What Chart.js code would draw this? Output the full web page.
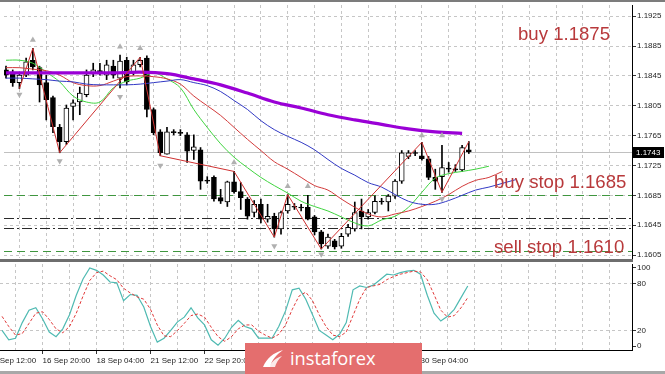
<!DOCTYPE html>
<html>
<head>
<meta charset="utf-8">
<script src="https://cdn.jsdelivr.net/npm/chart.js@4.4.0/dist/chart.umd.min.js"></script>
<style>
  html, body { margin: 0; padding: 0; background: #fff; }
  #wrap { position: relative; width: 665px; height: 374px; overflow: hidden; background: #fff;
          font-family: 'Liberation Sans', Arial, sans-serif; }
  #main { position: absolute; left: 0; top: 0; }
  #osc { position: absolute; left: 0; top: 262px; }
  .bar { position: absolute; left: 0; width: 665px; }
  .note { position: absolute; color: #b8393b; font-size: 18.6px; line-height: 1; white-space: nowrap; }
  #banner { position: absolute; left: 245px; top: 343px; width: 177px; height: 31px; background: #e46e6e; }
  #banner span { position: absolute; left: 45px; top: 4px; color: #fff; font-family: 'Open Sans', sans-serif;
                 font-size: 18.3px; line-height: 1.2; }
  #banner svg { position: absolute; left: 16px; top: 5px; }
</style>
</head>
<body>
<div id="wrap">
  <canvas id="main" width="665" height="262"></canvas>
  <canvas id="osc" width="665" height="112"></canvas>
  <div class="bar" style="top:0;height:2px;background:#7c7c7c"></div>
  <div class="bar" style="top:259px;height:3px;background:#6e6e6e;width:633px"></div>
  <div class="bar" style="top:371px;height:3px;background:#a8a8a8"></div>
  <div class="note" style="left:518px;top:25px">buy 1.1875</div>
  <div class="note" style="left:494px;top:173px">buy stop 1.1685</div>
  <div class="note" style="left:494px;top:238px">sell stop 1.1610</div>
  <div id="banner">
    <svg width="24" height="21" viewBox="0 0 24 21">
      <path d="M2 19 C6 10 12 5 22 2 C15 7 11 12 9 19 Z" fill="#fff"/>
      <path d="M8 19 C11 13 15 10 21 8 C17 12 15 15 14 19 Z" fill="#fff" opacity="0.85"/>
    </svg>
    <span>instaforex</span>
  </div>
</div>
<script>
// H4 EURUSD candles, one entry per bar (oldest first)
const opens = [1.1853,1.1849,1.1836,1.1846,1.1866,1.1856,1.1836,1.1816,1.1776,1.1757,
  1.1804,1.1810,1.1820,1.1849,1.1852,1.1846,1.1858,1.1842,1.1866,1.1849,
  1.1860,1.1869,1.1800,1.1770,1.1740,1.1770,1.1769,1.1766,1.1745,1.1746,
  1.1705,1.1709,1.1682,1.1676,1.1703,1.1690,1.1680,1.1662,1.1673,1.1653,
  1.1657,1.1640,1.1664,1.1670,1.1669,1.1669,1.1656,1.1636,1.1617,1.1624,
  1.1617,1.1633,1.1640,1.1664,1.1656,1.1662,1.1677,1.1676,1.1684,1.1704,
  1.1737,1.1742,1.1738,1.1734,1.1709,1.1710,1.1721,1.1720,1.1719,1.1746];
const highs = [1.1858,1.1853,1.1850,1.1869,1.1882,1.1858,1.1846,1.1818,1.1780,1.1806,
  1.1813,1.1830,1.1853,1.1862,1.1862,1.1866,1.1866,1.1873,1.1870,1.1866,
  1.1870,1.1872,1.1802,1.1773,1.1776,1.1773,1.1773,1.1769,1.1766,1.1749,
  1.1710,1.1711,1.1693,1.1704,1.1717,1.1702,1.1682,1.1678,1.1680,1.1673,
  1.1661,1.1664,1.1686,1.1674,1.1673,1.1685,1.1658,1.1638,1.1633,1.1626,
  1.1634,1.1646,1.1676,1.1680,1.1666,1.1684,1.1681,1.1686,1.1706,1.1745,
  1.1745,1.1745,1.1756,1.1737,1.1720,1.1752,1.1729,1.1726,1.1752,1.1757];
const lows = [1.1842,1.1831,1.1828,1.1844,1.1853,1.1810,1.1786,1.1769,1.1742,1.1753,
  1.1786,1.1793,1.1817,1.1844,1.1846,1.1840,1.1842,1.1829,1.1833,1.1846,
  1.1857,1.1790,1.1766,1.1738,1.1740,1.1766,1.1765,1.1729,1.1733,1.1693,
  1.1701,1.1677,1.1674,1.1670,1.1688,1.1666,1.1653,1.1656,1.1648,1.1649,
  1.1629,1.1633,1.1661,1.1666,1.1664,1.1652,1.1632,1.1613,1.1614,1.1613,
  1.1614,1.1630,1.1637,1.1640,1.1653,1.1660,1.1673,1.1664,1.1681,1.1701,
  1.1734,1.1738,1.1732,1.1706,1.1693,1.1689,1.1716,1.1717,1.1717,1.1741];
const closes = [1.1846,1.1836,1.1846,1.1864,1.1857,1.1833,1.1813,1.1777,1.1757,1.1802,
  1.1809,1.1822,1.1846,1.1853,1.1849,1.1860,1.1846,1.1865,1.1837,1.1860,
  1.1866,1.1800,1.1769,1.1742,1.1770,1.1769,1.1768,1.1744,1.1750,1.1704,
  1.1704,1.1680,1.1677,1.1703,1.1690,1.1682,1.1657,1.1673,1.1653,1.1657,
  1.1640,1.1662,1.1673,1.1669,1.1668,1.1653,1.1636,1.1620,1.1629,1.1616,
  1.1630,1.1642,1.1662,1.1656,1.1662,1.1677,1.1676,1.1684,1.1704,1.1742,
  1.1742,1.1741,1.1734,1.1709,1.1704,1.1722,1.1720,1.1719,1.1749,1.1743];

// Alligator lines, one value every 2 bars (they run past the last bar)
const lipsGreen = [1.1866,1.1866,1.1862,1.1850,1.1837,1.1818,1.1810,1.1810,1.1829,1.1838,
  1.1842,1.1849,1.1841,1.1829,1.1800,1.1776,1.1754,1.1736,1.1722,1.1709,
  1.1698,1.1688,1.1677,1.1670,1.1664,1.1656,1.1648,1.1644,1.1652,1.1657,
  1.1669,1.1689,1.1708,1.1714,1.1717,1.1720,1.1724];
const teethRed = [1.1856,1.1856,1.1854,1.1852,1.1846,1.1836,1.1832,1.1832,1.1838,1.1844,
  1.1845,1.1844,1.1841,1.1834,1.1818,1.1805,1.1792,1.1776,1.1760,1.1745,
  1.1730,1.1720,1.1709,1.1698,1.1692,1.1680,1.1669,1.1660,1.1656,1.1660,
  1.1664,1.1670,1.1677,1.1686,1.1697,1.1705,1.1709,1.1717];
const jawBlue = [1.1842,1.1842,1.1841,1.1840,1.1838,1.1837,1.1834,1.1833,1.1833,1.1833,
  1.1834,1.1836,1.1838,1.1840,1.1836,1.1832,1.1824,1.1812,1.1800,1.1785,
  1.1773,1.1764,1.1756,1.1746,1.1733,1.1721,1.1712,1.1702,1.1696,1.1686,
  1.1677,1.1673,1.1673,1.1678,1.1685,1.1692,1.1696,1.1701,1.1706];
// slow moving average, one value every 4 bars
const maPurple = [1.1849,1.1849,1.1849,1.1849,1.1849,1.1850,1.1848,1.1841,1.1833,1.1822,
  1.1810,1.1802,1.1793,1.1786,1.1780,1.1774,1.1770,1.1768];

// ZigZag turning points and fractal arrows (bar index, price)
const zigIdx = [2, 4, 8, 20, 23, 34, 40, 42, 47, 62, 65, 69];
const zigVal = [1.1828,1.1882,1.1742,1.1870,1.1738,1.1717,1.1629,1.1686,1.1613,1.1756,1.1689,1.1757];
const fracUpIdx = [4, 17, 20, 34, 42, 45, 62, 65];
const fracUpVal = [1.1893,1.1884,1.1882,1.1729,1.1697,1.1697,1.1765,1.1765];
const fracDnIdx = [2, 8, 17, 23, 40, 47, 65];
const fracDnVal = [1.1820,1.1731,1.1817,1.1725,1.1617,1.1606,1.1680];

// order levels
const levelPrices = [1.1685, 1.1655, 1.1641, 1.1610];

// stochastic oscillator
const stochMain = [20,8,10,30,46,49,35,18,12,22,40,65,86,100,97,91,82,81,58,66,
  65,50,25,5,10,20,31,37,49,36,27,8,1,10,24,33,25,22,10,10,
  10,25,45,72,74,60,40,20,14,8,15,30,72,77,75,78,85,92,91,94,
  96,97,92,65,42,32,38,47,62,77];
const stochSignal = [38,25,14,16,29,42,44,34,22,17,25,42,64,84,94,96,90,85,74,68,
  63,60,47,27,13,12,20,29,39,41,37,24,12,6,12,22,27,27,19,14,
  10,15,27,47,64,69,58,40,25,14,12,18,39,60,75,77,79,85,89,92,
  94,96,95,85,66,46,37,39,49,62];

// axis ticks
const priceTicks = [1.1925, 1.1885, 1.1845, 1.1805, 1.1765, 1.1725, 1.1685, 1.1645, 1.1605];
const oscTicks = [0, 20, 80, 100];
const timeLabelIdx = [-2, 6, 14, 22, 30, 38, 46, 54, 62];
const timeLabels = ['15 Sep 12:00', '16 Sep 20:00', '18 Sep 04:00', '21 Sep 12:00', '22 Sep 20:00',
  '24 Sep 04:00', '25 Sep 12:00', '28 Sep 20:00', '30 Sep 04:00'];

Chart.defaults.font.family = "'Liberation Sans', Arial, sans-serif";
Chart.defaults.font.size = 8;
Chart.defaults.color = '#1e1e1e';

const X_MIN = -0.3, X_MAX = 93.33;
const GRID = '#c6c6c6';
const gridIdx = [];
for (let v = 2; v <= 90; v += 4) gridIdx.push(v);

const stepIdx = (n, step) => Array.from({ length: n }, (_, k) => k * step);
const pts = (idx, vals) => vals.map((v, k) => ({ x: idx[k], y: v }));
const bars = opens.map((_, i) => i);

const levelStyles = [
  { color: '#3f963f', dash: [8, 5] },
  { color: '#2a2a2a', dash: [10, 3, 2, 3] },
  { color: '#2a2a2a', dash: [10, 3, 2, 3] },
  { color: '#3f963f', dash: [8, 5] }
];

const levelPlugin = {
  id: 'levels',
  beforeDatasetsDraw(chart) {
    const { ctx, chartArea: a, scales: { y } } = chart;
    const lastClose = closes[closes.length - 1];
    const drawH = (price, color, dash) => {
      const py = Math.round(y.getPixelForValue(price)) + 0.5;
      ctx.save();
      ctx.strokeStyle = color;
      ctx.lineWidth = 1;
      ctx.setLineDash(dash);
      ctx.beginPath();
      ctx.moveTo(a.left, py);
      ctx.lineTo(a.right, py);
      ctx.stroke();
      ctx.restore();
    };
    drawH(lastClose, '#c0c0c0', []);
    levelPrices.forEach((p, i) => drawH(p, levelStyles[i].color, levelStyles[i].dash));
  },
  afterDraw(chart) {
    const { ctx, chartArea: a, scales: { y } } = chart;
    const lastClose = closes[closes.length - 1];
    const py = Math.round(y.getPixelForValue(lastClose));
    ctx.save();
    ctx.fillStyle = '#000';
    ctx.fillRect(a.right + 1, py - 5, 31, 11);
    ctx.fillStyle = '#fff';
    ctx.font = "8px 'Liberation Sans', Arial, sans-serif";
    ctx.textBaseline = 'middle';
    ctx.fillText(lastClose.toFixed(4), a.right + 4, py + 0.5);
    ctx.restore();
  }
};

const lineDs = (data, color, width, order) => ({
  type: 'line', data, borderColor: color, borderWidth: width, pointRadius: 0,
  tension: 0.35, fill: false, order
});

new Chart(document.getElementById('main'), {
  type: 'bar',
  data: {
    datasets: [
      lineDs(pts(stepIdx(maPurple.length, 4), maPurple), '#9a00d6', 3.2, 2),
      lineDs(pts(stepIdx(jawBlue.length, 2), jawBlue), '#3138c4', 1, 3),
      lineDs(pts(stepIdx(teethRed.length, 2), teethRed), '#d23a3a', 1, 3),
      lineDs(pts(stepIdx(lipsGreen.length, 2), lipsGreen), '#3fd43f', 1, 3),
      Object.assign(lineDs(pts(zigIdx, zigVal), '#cf3030', 1, 1), { tension: 0 }),
      {
        type: 'line', data: pts(fracUpIdx, fracUpVal), showLine: false, order: 1,
        pointStyle: 'triangle', pointRadius: 3.5, rotation: 0,
        pointBackgroundColor: '#b0b0b0', pointBorderColor: '#b0b0b0', pointBorderWidth: 0
      },
      {
        type: 'line', data: pts(fracDnIdx, fracDnVal), showLine: false, order: 1,
        pointStyle: 'triangle', pointRadius: 3.5, rotation: 180,
        pointBackgroundColor: '#b0b0b0', pointBorderColor: '#b0b0b0', pointBorderWidth: 0
      },
      {
        type: 'bar', data: bars.map(i => ({ x: i, y: [lows[i], highs[i]] })),
        backgroundColor: '#000', barThickness: 1, grouped: false, order: 10
      },
      {
        type: 'bar', data: bars.map(i => ({ x: i, y: [opens[i], closes[i]] })),
        backgroundColor: bars.map(i => closes[i] >= opens[i] ? '#fff' : '#000'),
        borderColor: '#000', borderWidth: 1, borderSkipped: false, minBarLength: 1,
        barThickness: 5, grouped: false, order: 9
      }
    ]
  },
  options: {
    responsive: false,
    animation: false,
    events: [],
    layout: { padding: { top: 5, bottom: 3, left: 0, right: 0 } },
    plugins: { legend: { display: false }, tooltip: { enabled: false } },
    scales: {
      x: {
        type: 'linear', min: X_MIN, max: X_MAX, offset: false,
        afterBuildTicks: s => { s.ticks = gridIdx.map(v => ({ value: v })); },
        ticks: { display: false },
        grid: { color: GRID, drawTicks: false, offset: false },
        border: { display: false, dash: [3, 3] },
        afterFit: s => { s.height = 0; s.paddingLeft = 0; s.paddingRight = 0; }
      },
      y: {
        position: 'right', min: 1.1601, max: 1.1940,
        afterBuildTicks: s => { s.ticks = priceTicks.map(v => ({ value: v })); },
        ticks: { padding: 1, callback: v => v.toFixed(4) },
        grid: { color: GRID, tickLength: 4, tickColor: '#333' },
        border: { display: true, color: '#000', width: 1, dash: [3, 3] },
        afterFit: s => { s.width = 33; s.paddingTop = 0; s.paddingBottom = 0; }
      }
    }
  },
  plugins: [levelPlugin]
});

const labelFor = v => {
  const k = timeLabelIdx.indexOf(v);
  return k >= 0 ? timeLabels[k] : '';
};

new Chart(document.getElementById('osc'), {
  type: 'line',
  data: {
    datasets: [
      {
        data: pts(bars, stochMain), borderColor: '#4fbab2', borderWidth: 1.2,
        pointRadius: 0, tension: 0, order: 2
      },
      {
        data: pts(bars, stochSignal), borderColor: '#e03a3a', borderWidth: 1,
        borderDash: [3, 2], pointRadius: 0, tension: 0, order: 1
      }
    ]
  },
  options: {
    responsive: false,
    animation: false,
    events: [],
    layout: { padding: { top: 2, bottom: 0, left: 0, right: 0 } },
    plugins: { legend: { display: false }, tooltip: { enabled: false } },
    scales: {
      x: {
        type: 'linear', min: X_MIN, max: X_MAX,
        afterBuildTicks: s => { s.ticks = [-2].concat(gridIdx).map(v => ({ value: v })); },
        ticks: { autoSkip: false, maxRotation: 0, align: 'start', padding: 2, callback: v => labelFor(v) },
        grid: {
          color: c => (c.tick && c.tick.value >= 0) ? GRID : 'rgba(0,0,0,0)',
          tickLength: 4,
          tickColor: c => (c.tick && labelFor(c.tick.value)) ? '#333' : 'rgba(0,0,0,0)'
        },
        border: { display: true, color: '#000', width: 1, dash: [3, 3] },
        afterFit: s => { s.height = 24; s.paddingLeft = 0; s.paddingRight = 0; }
      },
      y: {
        position: 'right', min: -5.1, max: 105.1,
        afterBuildTicks: s => { s.ticks = oscTicks.map(v => ({ value: v })); },
        ticks: { padding: 1, callback: v => String(v) },
        grid: {
          color: c => (c.tick && (c.tick.value === 20 || c.tick.value === 80)) ? GRID : 'rgba(0,0,0,0)',
          tickLength: 4, tickColor: '#333'
        },
        border: { display: true, color: '#000', width: 1, dash: [3, 3] },
        afterFit: s => { s.width = 33; s.paddingTop = 0; s.paddingBottom = 0; }
      }
    }
  }
});
</script>
</body>
</html>
